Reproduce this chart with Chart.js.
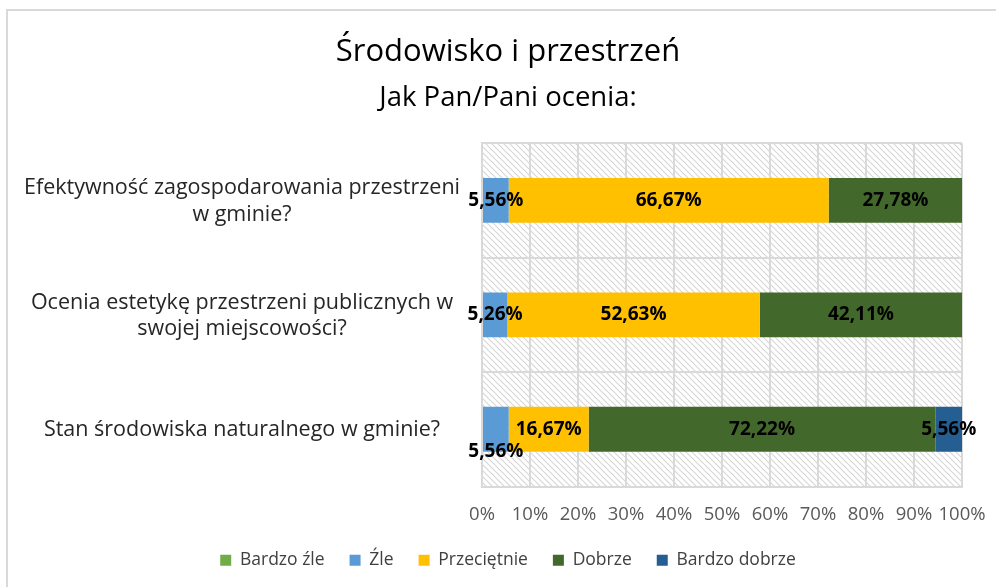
<!DOCTYPE html>
<html>
<head>
<meta charset="utf-8">
<script src="https://cdn.jsdelivr.net/npm/chart.js@4.4.1/dist/chart.umd.min.js"></script>
<style>
html, body { margin: 0; padding: 0; background: #fff; overflow: hidden; }
#wrap { position: relative; width: 996px; height: 587px; }
#frame { position: absolute; left: 6px; top: 9px; width: 1000px; height: 600px;
  border-left: 2px solid #d9d9d9; border-top: 2px solid #d9d9d9; pointer-events: none; }
</style>
</head>
<body>
<div id="wrap">
  <canvas id="chart" width="996" height="587"></canvas>
  <div id="frame"></div>
</div>
<script>
// questions (y axis)
var categories = [
  ["Efektywność zagospodarowania przestrzeni", "w gminie?"],
  ["Ocenia estetykę przestrzeni publicznych w", "swojej miejscowości?"],
  "Stan środowiska naturalnego w gminie?"
];
// answers, % of respondents
var bardzoZle    = [0, 0, 0];
var zle          = [5.56, 5.26, 5.56];
var przecietnie  = [66.67, 52.63, 16.67];
var dobrze       = [27.78, 42.11, 72.22];
var bardzoDobrze = [0, 0, 5.56];
var seriesNames  = ["Bardzo źle", "Źle", "Przeciętnie", "Dobrze", "Bardzo dobrze"];
var xTickValues  = [0, 10, 20, 30, 40, 50, 60, 70, 80, 90, 100];

var FONT = "'Open Sans'";

function fmt(v) {
  return v.toFixed(2).replace(".", ",") + "%";
}

// diagonal hatch behind the plot area
var hatchBg = {
  id: "hatchBg",
  beforeDraw: function (chart) {
    var a = chart.chartArea;
    var p = document.createElement("canvas");
    p.width = 6; p.height = 6;
    var pc = p.getContext("2d");
    pc.fillStyle = "#fff";
    pc.fillRect(0, 0, 6, 6);
    pc.strokeStyle = "#d6d6d6";
    pc.lineWidth = 1.1;
    pc.beginPath();
    pc.moveTo(-1, -1); pc.lineTo(7, 7);
    pc.moveTo(-1, 5); pc.lineTo(1, 7);
    pc.moveTo(5, -1); pc.lineTo(7, 1);
    pc.stroke();
    var ctx = chart.ctx;
    ctx.save();
    ctx.fillStyle = ctx.createPattern(p, "repeat");
    ctx.fillRect(a.left, a.top, a.right - a.left, a.bottom - a.top);
    ctx.restore();
  }
};

// value labels in the bars; a label that would hit the next one drops to the bar's lower edge
var barLabels = {
  id: "barLabels",
  afterDatasetsDraw: function (chart) {
    var ctx = chart.ctx;
    ctx.save();
    ctx.font = "bold 19px " + FONT;
    ctx.fillStyle = "#000";
    ctx.textAlign = "center";
    ctx.textBaseline = "middle";
    for (var i = 0; i < categories.length; i++) {
      var items = [];
      chart.data.datasets.forEach(function (ds, d) {
        var v = ds.data[i];
        if (!v) return;
        var bar = chart.getDatasetMeta(d).data[i];
        var pr = bar.getProps(["x", "y", "base", "height"], true);
        var txt = fmt(v);
        items.push({
          txt: txt,
          x: (pr.x + pr.base) / 2,
          y: pr.y,
          w: ctx.measureText(txt).width,
          bottom: pr.y + pr.height / 2
        });
      });
      for (var k = 0; k < items.length - 1; k++) {
        var a = items[k], b = items[k + 1];
        if (a.x + a.w / 2 > b.x - b.w / 2) a.y = a.bottom;
      }
      items.forEach(function (it) { ctx.fillText(it.txt, it.x, it.y); });
    }
    ctx.restore();
  }
};

// title, subtitle and legend sit a bit right of the canvas centre, as in the original
var shiftBoxes = {
  id: "shiftBoxes",
  afterLayout: function (chart) {
    [chart.titleBlock, chart.legend].forEach(function (b) {
      if (b) { b.left += 22; b.right += 22; }
    });
    chart.boxes.forEach(function (b) {
      if (b !== chart.titleBlock && b.options && b.options.text === "Jak Pan/Pani ocenia:") {
        b.left += 22; b.right += 22;
      }
    });
  }
};

var colors = ["#70AD47", "#5B9BD5", "#FFC000", "#43682B", "#255E91"];
var values = [bardzoZle, zle, przecietnie, dobrze, bardzoDobrze];

var datasets = seriesNames.map(function (name, i) {
  return {
    label: name,
    data: values[i],
    backgroundColor: colors[i],
    borderWidth: 0,
    barPercentage: 0.392,
    categoryPercentage: 1
  };
});

var gridColor = "#d9d9d9";

new Chart(document.getElementById("chart"), {
  type: "bar",
  data: { labels: categories, datasets: datasets },
  plugins: [hatchBg, barLabels, shiftBoxes],
  options: {
    indexAxis: "y",
    responsive: false,
    animation: false,
    layout: { padding: { top: 34, left: 10, right: 34, bottom: 8 } },
    scales: {
      x: {
        stacked: true,
        min: 0,
        max: 100,
        afterBuildTicks: function (s) {
          s.ticks = xTickValues.map(function (v) { return { value: v }; });
        },
        afterFit: function (s) { s.height = 40; },
        ticks: {
          callback: function (v) { return v + "%"; },
          color: "#595959",
          font: { family: FONT, size: 18.5 },
          padding: 4,
          autoSkip: false,
          maxRotation: 0
        },
        grid: { color: gridColor, lineWidth: 2, drawTicks: true, tickLength: 13, tickColor: "rgba(0,0,0,0)" },
        border: { display: true, color: gridColor, width: 2 }
      },
      y: {
        stacked: true,
        afterFit: function (s) { s.width = 472; },
        ticks: {
          color: "#262626",
          font: { family: FONT, size: 21.5, lineHeight: 1.25 },
          crossAlign: "center",
          padding: 22,
          labelOffset: 1
        },
        grid: { color: gridColor, lineWidth: 2, drawTicks: false, offset: true },
        border: { display: true, color: gridColor, width: 2 }
      }
    },
    plugins: {
      title: {
        display: true,
        text: "Środowisko i przestrzeń",
        color: "#000",
        font: { family: FONT, size: 31, weight: "normal" },
        padding: { top: 0, bottom: 10 }
      },
      subtitle: {
        display: true,
        text: "Jak Pan/Pani ocenia:",
        color: "#000",
        font: { family: FONT, size: 27.5 },
        padding: { top: 0, bottom: 29 }
      },
      legend: {
        position: "bottom",
        labels: {
          boxWidth: 11,
          boxHeight: 11,
          padding: 25,
          color: "#404040",
          font: { family: FONT, size: 17.5 }
        }
      },
      tooltip: { enabled: false }
    }
  }
});
</script>
</body>
</html>
